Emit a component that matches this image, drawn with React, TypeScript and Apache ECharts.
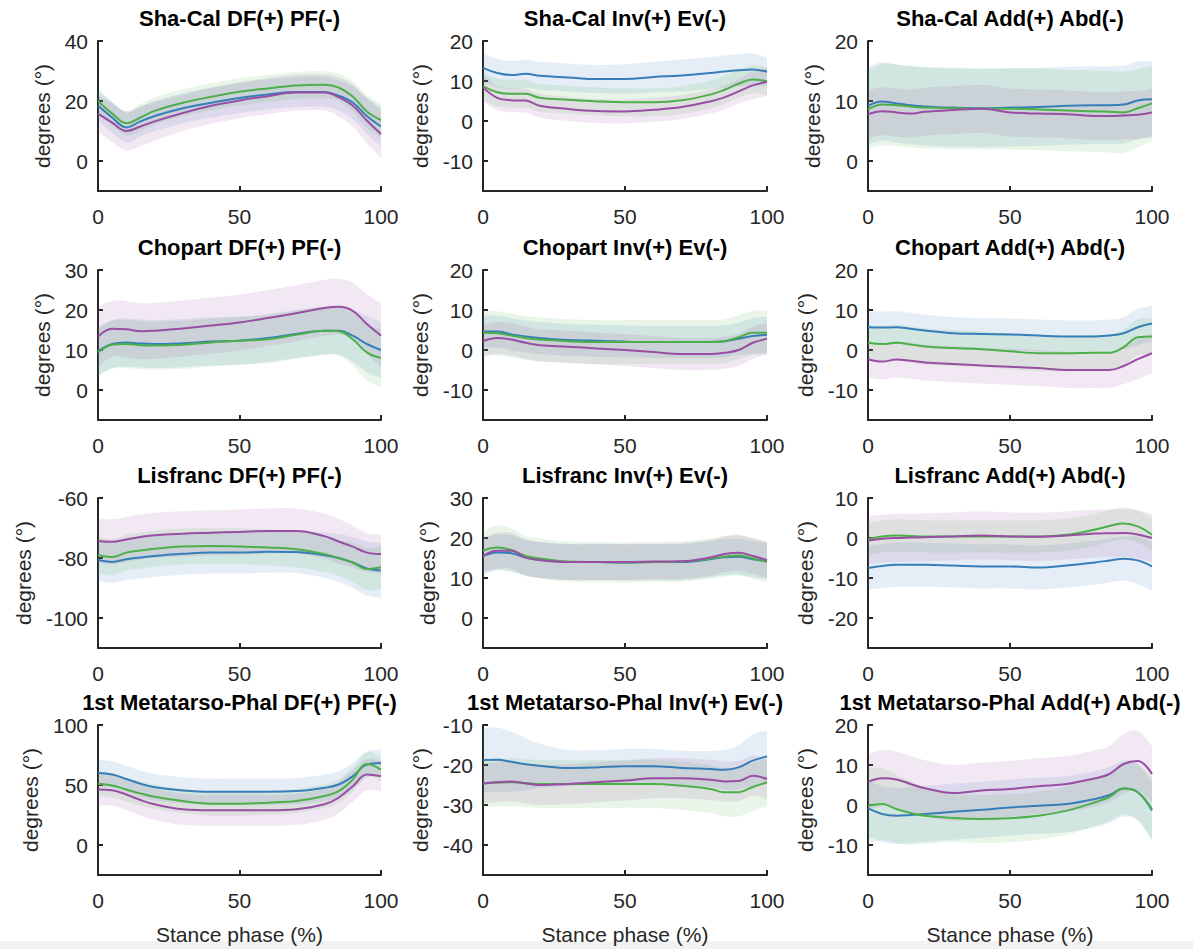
import React, { useEffect, useRef } from "react";
import * as echarts from "echarts";

// Stance phase sample points (%)
const X = [0, 5, 10, 15, 20, 30, 40, 50, 60, 70, 80, 85, 90, 95, 100];

// Sha-Cal DF(+) PF(-)
const shaCalDF_blue = [18.5, 14.5, 11.2, 13.2, 15, 17.6, 19.4, 21, 22.2, 23, 23, 21.8, 19.5, 15, 11.5];
const shaCalDF_green = [20, 15.8, 12.6, 14.5, 16.7, 19.4, 21.4, 23.1, 24.2, 25.2, 25.4, 24.5, 21.5, 16.5, 13.6];
const shaCalDF_purple = [15.8, 12.8, 10, 11.5, 13.2, 16, 18.4, 20.2, 21.6, 22.8, 22.8, 21.3, 18.5, 13.5, 9];
const shaCalDF_blueSD = [5, 5, 5, 5, 5, 5, 5, 5, 5, 5, 5, 5, 5.5, 6, 6.5];
const shaCalDF_greenSD = [4, 4, 4, 4.5, 4.5, 4.5, 4.5, 4.5, 4.5, 4.5, 4.5, 4.5, 5, 5.5, 5.5];
const shaCalDF_purpleSD = [6, 6.5, 6.5, 6.5, 6.5, 6, 6, 6, 6, 6, 6, 6.5, 7, 7.5, 8];

// Sha-Cal Inv(+) Ev(-)
const shaCalInv_blue = [13.3, 12, 11.5, 11.8, 11.3, 10.9, 10.5, 10.5, 11, 11.4, 12, 12.4, 12.7, 12.9, 12.3];
const shaCalInv_green = [8.7, 7.2, 6.8, 6.8, 5.8, 5.3, 4.9, 4.7, 4.7, 5.2, 6.6, 7.8, 9.3, 10.4, 9.9];
const shaCalInv_purple = [8.4, 5.8, 5.2, 5.1, 3.8, 3, 2.5, 2.4, 2.8, 3.5, 4.9, 5.9, 7.4, 8.9, 9.8];
const shaCalInv_blueSD = [3.5, 3.5, 3.5, 3.5, 3.5, 3.5, 3.5, 3.7, 3.8, 4, 4, 4, 4, 4, 3.5];
const shaCalInv_greenSD = [3.5, 3.5, 3.5, 3.5, 3.5, 3.5, 3.5, 3.5, 3.5, 3.5, 3.5, 3.5, 3.5, 3.5, 3.5];
const shaCalInv_purpleSD = [3.5, 3, 3, 3, 3, 3, 3, 3, 3, 3, 3, 3, 3, 3.5, 3.5];

// Sha-Cal Add(+) Abd(-)
const shaCalAdd_blue = [9.2, 9.9, 9.6, 9.3, 9.1, 8.9, 8.8, 8.9, 9, 9.2, 9.3, 9.3, 9.4, 10.1, 10.3];
const shaCalAdd_green = [8.6, 9.4, 9.3, 9.1, 8.9, 8.8, 8.7, 8.7, 8.6, 8.4, 8.3, 8.2, 8.1, 8.8, 9.6];
const shaCalAdd_purple = [7.8, 8.3, 8.1, 7.9, 8.2, 8.5, 8.7, 8.1, 7.9, 7.8, 7.5, 7.5, 7.6, 7.7, 8.1];
const shaCalAdd_blueSD = [6.5, 6.5, 6.5, 6.5, 6.5, 6.5, 6.5, 6.5, 6.5, 6.5, 6.5, 6.5, 6.5, 6.5, 6.3];
const shaCalAdd_greenSD = [6.5, 6.8, 6.8, 6.8, 6.8, 6.8, 6.8, 6.8, 6.8, 6.8, 6.8, 6.8, 6.8, 6.5, 6.3];
const shaCalAdd_purpleSD = [4, 4, 4, 4, 4, 4, 4, 4, 4, 4, 4, 4, 4, 4, 4];

// Chopart DF(+) PF(-)
const chopartDF_blue = [9.7, 11.5, 11.9, 11.6, 11.5, 11.7, 12.1, 12.3, 13, 14, 14.8, 14.8, 13.6, 11.5, 10];
const chopartDF_green = [9.4, 11.3, 11.5, 11.2, 11.1, 11.3, 11.9, 12.3, 12.7, 13.8, 14.8, 14.7, 12.7, 9.4, 8];
const chopartDF_purple = [13.3, 15.3, 15.2, 14.7, 14.8, 15.4, 16.1, 16.9, 18, 19.2, 20.5, 20.8, 19.8, 16.5, 13.6];
const chopartDF_blueSD = [6, 6, 6, 6, 6, 6, 6, 6, 6, 6, 6, 6, 6.5, 7, 7];
const chopartDF_greenSD = [6, 6, 6, 6, 6, 6, 6, 6, 6, 6, 6, 6, 6.5, 7, 7.2];
const chopartDF_purpleSD = [7.5, 7, 7, 7, 7, 7, 7, 7, 7, 7, 7, 7, 7, 7.5, 8];

// Chopart Inv(+) Ev(-)
const chopartInv_blue = [4.6, 4.6, 3.9, 3.4, 3, 2.5, 2.3, 2.1, 2, 2, 2, 2.2, 2.8, 3.5, 3.8];
const chopartInv_green = [4.3, 4.2, 3.6, 3, 2.6, 2.2, 2, 2, 2, 2, 2, 2.2, 3.2, 4.3, 4.3];
const chopartInv_purple = [2.2, 3, 2.6, 1.8, 1.2, 0.8, 0.4, 0, -0.5, -1, -1, -0.7, 0, 1.8, 2.8];
const chopartInv_blueSD = [4, 4, 4, 4, 4, 4, 4, 4, 4, 4, 4, 4, 4, 4.5, 4.5];
const chopartInv_greenSD = [5.5, 5.5, 5.5, 5.5, 5.5, 5.5, 5.5, 5.5, 5.5, 5.5, 5.5, 5.5, 5.5, 5.5, 5.5];
const chopartInv_purpleSD = [4, 4, 4, 4, 4, 4, 4, 4, 4, 4, 4, 4, 4, 4, 4];

// Chopart Add(+) Abd(-)
const chopartAdd_blue = [5.7, 5.6, 5.7, 5.3, 4.9, 4.2, 4, 3.9, 3.6, 3.4, 3.4, 3.6, 4.2, 5.7, 6.6];
const chopartAdd_green = [1.8, 1.5, 1.8, 1.4, 0.9, 0.5, 0.2, -0.3, -0.8, -0.8, -0.7, -0.7, 0.7, 3.2, 3.4];
const chopartAdd_purple = [-2.3, -2.9, -2.4, -2.7, -3.1, -3.5, -3.9, -4.2, -4.5, -5, -5, -5, -4, -2.3, -0.8];
const chopartAdd_blueSD = [4, 4, 4, 4, 4, 4, 4, 4, 4, 4, 4, 4, 4, 4.5, 4.5];
const chopartAdd_greenSD = [4.5, 4.5, 4.5, 4.5, 4.5, 4.5, 4.5, 4.5, 4.5, 4.5, 4.5, 4.5, 4.5, 4.5, 4.5];
const chopartAdd_purpleSD = [4.5, 4.5, 4.5, 4.5, 4.5, 4.5, 4.5, 4.5, 4.5, 4.5, 4.5, 4.5, 4.5, 5, 5];

// Lisfranc DF(+) PF(-)
const lisfrancDF_blue = [-80.6, -81.3, -80.4, -79.8, -79.3, -78.6, -78.2, -78.2, -77.9, -78, -79.1, -80, -81.5, -83.5, -84.2];
const lisfrancDF_green = [-79, -79.7, -78.2, -77.5, -76.9, -76.2, -76, -76.2, -76.5, -77.1, -78.7, -80, -81.5, -83.7, -83.1];
const lisfrancDF_purple = [-74.3, -74.6, -73.8, -73, -72.4, -71.9, -71.6, -71.3, -71, -71, -72.7, -74.5, -76.2, -78.2, -78.7];
const lisfrancDF_blueSD = [7, 7, 7, 7, 7, 7, 7, 7, 7, 7, 7.5, 8, 8.5, 9, 9];
const lisfrancDF_greenSD = [6, 6, 6, 6, 6, 6, 6, 6, 6, 6, 6, 6, 6.5, 7, 7];
const lisfrancDF_purpleSD = [7.5, 7.5, 7.5, 7.5, 7.5, 7.5, 7.5, 7.5, 7.5, 7.5, 7.5, 7.5, 7, 6.5, 6.5];

// Lisfranc Inv(+) Ev(-)
const lisfrancInv_blue = [15.5, 16.4, 16.2, 15.1, 14.5, 14, 14, 13.9, 14, 14, 14.7, 15.2, 15.3, 14.7, 14.3];
const lisfrancInv_green = [16.8, 17.6, 17, 15.5, 14.9, 14.1, 14, 13.9, 14, 14.1, 14.8, 15.4, 15.6, 14.9, 14];
const lisfrancInv_purple = [15.5, 16.8, 16.8, 15.1, 14.5, 14, 14, 14, 14.1, 14.2, 15.1, 16, 16.3, 15.5, 14.5];
const lisfrancInv_blueSD = [4.5, 4.5, 4.5, 4.5, 4.5, 4.5, 4.5, 4.5, 4.5, 4.5, 4.5, 4.5, 4.5, 4.5, 4.5];
const lisfrancInv_greenSD = [5, 5.5, 5.5, 5, 5, 5, 5, 5, 5, 5, 5, 5, 5, 5, 5];
const lisfrancInv_purpleSD = [4.5, 4.5, 4.5, 4.5, 4.5, 4.5, 4.5, 4.5, 4.5, 4.5, 4.5, 4.5, 4.5, 4.5, 4.5];

// Lisfranc Add(+) Abd(-)
const lisfrancAdd_blue = [-7.5, -7, -6.7, -6.7, -6.7, -6.9, -7.1, -7.1, -7.4, -6.9, -6.1, -5.6, -5.2, -5.6, -7.1];
const lisfrancAdd_green = [-0.3, 0.4, 0.6, 0.5, 0.4, 0.4, 0.4, 0.4, 0.4, 0.8, 2.1, 3, 3.6, 2.9, 0.8];
const lisfrancAdd_purple = [-0.6, -0.2, 0, 0.1, 0.2, 0.4, 0.6, 0.4, 0.3, 0.6, 1.1, 1.2, 1.25, 0.9, 0];
const lisfrancAdd_blueSD = [5.5, 5.5, 5.5, 5.5, 5.5, 5.5, 5.5, 5.5, 5.5, 5.5, 5.5, 5.5, 5.5, 6, 6];
const lisfrancAdd_greenSD = [4, 4, 4, 4, 4, 4, 4, 4, 4, 4, 4, 4, 4, 4, 4];
const lisfrancAdd_purpleSD = [6, 6, 6, 6, 6, 6, 6, 6, 6, 6, 6, 6, 6, 6, 6];

// 1st Metatarso-Phal DF(+) PF(-)
const mtpDF_blue = [60, 58.7, 55, 51, 48.2, 45.5, 44.4, 44.4, 44.4, 44.9, 47.7, 50.4, 57.3, 67, 68.3];
const mtpDF_green = [51, 49.6, 46.3, 43, 40.2, 36.6, 34.4, 34.4, 35.3, 36.6, 40.8, 44.9, 54.5, 67.5, 62.8];
const mtpDF_purple = [46.3, 45.7, 42.1, 37.5, 33.9, 29.8, 28.9, 28.9, 28.9, 29.8, 33.9, 39.4, 49, 58.7, 57.3];
const mtpDF_blueSD = [11, 11, 11, 11, 11, 11, 11, 11, 11, 11, 11, 11, 11, 11, 11];
const mtpDF_greenSD = [10, 10, 10, 10, 10, 10, 10, 10, 10, 10, 10, 10, 10, 10, 10];
const mtpDF_purpleSD = [13, 13, 13, 13, 13, 13, 13, 13, 13, 13, 13, 13, 13, 13, 13];

// 1st Metatarso-Phal Inv(+) Ev(-)
const mtpInv_blue = [-18.75, -18.7, -19.2, -19.8, -20.2, -20.75, -20.6, -20.3, -20.3, -20.75, -21, -21.2, -20.6, -18.9, -17.9];
const mtpInv_green = [-24.6, -24.4, -24.3, -24.5, -24.75, -24.75, -24.75, -24.75, -24.75, -25.2, -26, -26.8, -26.8, -25.5, -24.3];
const mtpInv_purple = [-24.6, -24.3, -24.1, -24.6, -25, -24.75, -24.3, -23.9, -23.3, -23.3, -23.7, -24.1, -24, -22.7, -23.5];
const mtpInv_blueSD = [8, 8, 7.5, 6.5, 5.5, 4.5, 4.3, 4.3, 4.3, 4.3, 4.5, 5, 5.5, 6.5, 6.5];
const mtpInv_greenSD = [6, 6, 6, 6, 6, 6, 6, 6, 6, 6, 6, 6, 6, 6, 6];
const mtpInv_purpleSD = [5, 5, 5, 5, 5, 5, 5, 5, 5, 5, 5, 5, 5, 5, 5];

// 1st Metatarso-Phal Add(+) Abd(-)
const mtpAdd_blue = [-0.8, -2.25, -2.7, -2.5, -2.25, -1.7, -1.2, -0.6, -0.2, 0.25, 1.5, 2.5, 4.1, 3.2, -1.4];
const mtpAdd_green = [-0.2, 0.25, -1, -2, -2.7, -3.25, -3.5, -3.3, -2.7, -1.4, 0.7, 2, 4.1, 3.2, -1];
const mtpAdd_purple = [5.8, 6.7, 6.4, 5.25, 4.2, 3, 3.6, 4, 4.7, 5.25, 6.7, 7.75, 10.25, 11, 7.75];
const mtpAdd_blueSD = [7, 7, 7, 7, 7, 7, 7, 7, 7, 7, 7, 7, 7, 7, 7];
const mtpAdd_greenSD = [9.5, 9, 8.5, 8, 7, 6, 6, 6, 6, 6, 6, 6, 6.5, 7, 8];
const mtpAdd_purpleSD = [7, 7, 7, 7, 7, 7, 7, 7, 7, 7, 7, 7, 7.5, 7.5, 7];

// Panel titles and y-axis limits / ticks
const TITLES = [
  "Sha-Cal DF(+) PF(-)", "Sha-Cal Inv(+) Ev(-)", "Sha-Cal Add(+) Abd(-)",
  "Chopart DF(+) PF(-)", "Chopart Inv(+) Ev(-)", "Chopart Add(+) Abd(-)",
  "Lisfranc DF(+) PF(-)", "Lisfranc Inv(+) Ev(-)", "Lisfranc Add(+) Abd(-)",
  "1st Metatarso-Phal DF(+) PF(-)", "1st Metatarso-Phal Inv(+) Ev(-)", "1st Metatarso-Phal Add(+) Abd(-)",
];
const Y_MIN = [-10, -17.5, -5, -7.5, -17.5, -17.5, -110, -7.5, -27.5, -25, -47.5, -17.5];
const Y_MAX = [40, 20, 20, 30, 20, 20, -60, 30, 10, 100, -10, 20];
const Y_TICKS = [
  [0, 20, 40], [-10, 0, 10, 20], [0, 10, 20],
  [0, 10, 20, 30], [-10, 0, 10, 20], [-10, 0, 10, 20],
  [-100, -80, -60], [0, 10, 20, 30], [-20, -10, 0, 10],
  [0, 50, 100], [-40, -30, -20, -10], [-10, 0, 10, 20],
];
const X_TICKS = [0, 50, 100];

const MEANS = [
  [shaCalDF_blue, shaCalDF_green, shaCalDF_purple],
  [shaCalInv_blue, shaCalInv_green, shaCalInv_purple],
  [shaCalAdd_blue, shaCalAdd_green, shaCalAdd_purple],
  [chopartDF_blue, chopartDF_green, chopartDF_purple],
  [chopartInv_blue, chopartInv_green, chopartInv_purple],
  [chopartAdd_blue, chopartAdd_green, chopartAdd_purple],
  [lisfrancDF_blue, lisfrancDF_green, lisfrancDF_purple],
  [lisfrancInv_blue, lisfrancInv_green, lisfrancInv_purple],
  [lisfrancAdd_blue, lisfrancAdd_green, lisfrancAdd_purple],
  [mtpDF_blue, mtpDF_green, mtpDF_purple],
  [mtpInv_blue, mtpInv_green, mtpInv_purple],
  [mtpAdd_blue, mtpAdd_green, mtpAdd_purple],
];
const SDS = [
  [shaCalDF_blueSD, shaCalDF_greenSD, shaCalDF_purpleSD],
  [shaCalInv_blueSD, shaCalInv_greenSD, shaCalInv_purpleSD],
  [shaCalAdd_blueSD, shaCalAdd_greenSD, shaCalAdd_purpleSD],
  [chopartDF_blueSD, chopartDF_greenSD, chopartDF_purpleSD],
  [chopartInv_blueSD, chopartInv_greenSD, chopartInv_purpleSD],
  [chopartAdd_blueSD, chopartAdd_greenSD, chopartAdd_purpleSD],
  [lisfrancDF_blueSD, lisfrancDF_greenSD, lisfrancDF_purpleSD],
  [lisfrancInv_blueSD, lisfrancInv_greenSD, lisfrancInv_purpleSD],
  [lisfrancAdd_blueSD, lisfrancAdd_greenSD, lisfrancAdd_purpleSD],
  [mtpDF_blueSD, mtpDF_greenSD, mtpDF_purpleSD],
  [mtpInv_blueSD, mtpInv_greenSD, mtpInv_purpleSD],
  [mtpAdd_blueSD, mtpAdd_greenSD, mtpAdd_purpleSD],
];

const COLORS = ["#377eb8", "#4daf4a", "#984ea3"];

// layout
const COL_LEFT = [98, 483, 868];
const COL_WIDTH = [283, 284, 284];
const ROW_TOP = [41, 270, 498, 725];
const PLOT_H = 150;
const FONT = "'Liberation Sans', Arial, Helvetica, sans-serif";
const AXIS_COLOR = "#262626";
const TICK_FS = 21;
const NAME_FS = 21;
const TITLE_FS = 22;

function labelWidth(ticks: number[], fs: number) {
  let w = 0;
  for (const t of ticks) {
    const s = String(t);
    let sw = 0;
    for (const ch of s) sw += ch === "-" ? 0.333 : 0.556;
    w = Math.max(w, sw * fs);
  }
  return w;
}

// smooth curve through pixel points (rendering only)
function curveSegments(pts: number[][], start: boolean) {
  let d = (start ? "M" : "L") + pts[0][0].toFixed(2) + "," + pts[0][1].toFixed(2);
  const t = 0.18;
  for (let k = 0; k < pts.length - 1; k++) {
    const p0 = pts[Math.max(0, k - 1)];
    const p1 = pts[k];
    const p2 = pts[k + 1];
    const p3 = pts[Math.min(pts.length - 1, k + 2)];
    const c1x = p1[0] + (p2[0] - p0[0]) * t;
    const c1y = p1[1] + (p2[1] - p0[1]) * t;
    const c2x = p2[0] - (p3[0] - p1[0]) * t;
    const c2y = p2[1] - (p3[1] - p1[1]) * t;
    d += " C" + c1x.toFixed(2) + "," + c1y.toFixed(2) + " " + c2x.toFixed(2) + "," + c2y.toFixed(2) + " " + p2[0].toFixed(2) + "," + p2[1].toFixed(2);
  }
  return d;
}

const BIG = 10000;

function makeBandRender(lo: number[], hi: number[], color: string) {
  return (params: any, api: any) => {
    if (params.dataIndex !== 0) return null;
    const up = X.map((x, k) => api.coord([x, hi[k]]));
    const dn = X.map((x, k) => api.coord([x, lo[k]])).reverse();
    // two bare move-to points pin the bounding box so the path is not rescaled
    const d = `M${-BIG},${-BIG} M${BIG},${BIG} ` + curveSegments(up, true) + " " + curveSegments(dn, false) + " Z";
    return {
      type: "path",
      shape: { pathData: d, x: -BIG, y: -BIG, width: 2 * BIG, height: 2 * BIG, layout: "cover" },
      style: { fill: color, opacity: 0.13 },
      silent: true,
    };
  };
}

function buildOption() {
  const grid: any[] = [];
  const xAxis: any[] = [];
  const yAxis: any[] = [];
  const series: any[] = [];
  const graphic: any[] = [];

  TITLES.forEach((title, i) => {
    const r = Math.floor(i / 3);
    const c = i % 3;
    grid.push({ left: COL_LEFT[c], top: ROW_TOP[r], width: COL_WIDTH[c], height: PLOT_H });
    const isLastRow = r === 3;
    xAxis.push({
      gridIndex: i,
      type: "value",
      min: 0,
      max: 100,
      interval: 50,
      axisLine: { onZero: false, lineStyle: { color: AXIS_COLOR, width: 2 } },
      axisTick: { inside: true, length: 5, lineStyle: { color: AXIS_COLOR, width: 2 } },
      axisLabel: { margin: 15, fontSize: TICK_FS, color: AXIS_COLOR, fontFamily: FONT, customValues: X_TICKS },
      splitLine: { show: false },
      name: isLastRow ? "Stance phase (%)" : "",
      nameLocation: "middle",
      nameGap: 49,
      nameTextStyle: { fontSize: NAME_FS, color: AXIS_COLOR, fontFamily: FONT },
    });
    const lw = labelWidth(Y_TICKS[i], TICK_FS);
    yAxis.push({
      gridIndex: i,
      type: "value",
      min: Y_MIN[i],
      max: Y_MAX[i],
      axisLine: { show: true, onZero: false, lineStyle: { color: AXIS_COLOR, width: 2 } },
      axisTick: { show: true, inside: true, length: 5, customValues: Y_TICKS[i], lineStyle: { color: AXIS_COLOR, width: 2 } },
      axisLabel: { margin: 10, fontSize: TICK_FS, color: AXIS_COLOR, fontFamily: FONT, customValues: Y_TICKS[i] },
      splitLine: { show: false },
      name: "degrees (°)",
      nameLocation: "middle",
      nameRotate: 90,
      nameGap: lw + 22,
      nameTextStyle: { fontSize: NAME_FS, color: AXIS_COLOR, fontFamily: FONT },
    });

    // shaded bands (mean ± SD)
    for (let g = 0; g < 3; g++) {
      const m = MEANS[i][g];
      const sd = SDS[i][g];
      const lo = m.map((v, k) => v - sd[k]);
      const hi = m.map((v, k) => v + sd[k]);
      series.push({
        type: "custom",
        xAxisIndex: i,
        yAxisIndex: i,
        data: X.map((x, k) => [x, lo[k], hi[k]]),
        encode: { x: 0, y: [1, 2] },
        itemStyle: { color: COLORS[g] },
        renderItem: makeBandRender(lo, hi, COLORS[g]),
        clip: true,
        silent: true,
        z: 1,
      });
    }
    // mean curves
    for (let g = 0; g < 3; g++) {
      const m = MEANS[i][g];
      series.push({
        type: "line",
        xAxisIndex: i,
        yAxisIndex: i,
        data: X.map((x, k) => [x, m[k]]),
        smooth: 0.4,
        symbol: "none",
        lineStyle: { color: COLORS[g], width: 2 },
        silent: true,
        z: 3,
      });
    }

    graphic.push({
      type: "text",
      x: COL_LEFT[c] + COL_WIDTH[c] / 2,
      y: ROW_TOP[r] - 23,
      style: {
        text: title,
        align: "center",
        verticalAlign: "middle",
        fontSize: TITLE_FS,
        fontWeight: "bold",
        fontFamily: FONT,
        fill: "#000",
      },
    });
  });

  graphic.push({
    type: "rect",
    shape: { x: 0, y: 941, width: 1193, height: 8 },
    style: { fill: "#f2f2f2" },
    z: -10,
  });

  return {
    animation: false,
    backgroundColor: "#ffffff",
    grid,
    xAxis,
    yAxis,
    series,
    graphic,
  };
}

export default function App() {
  const ref = useRef<HTMLDivElement>(null);
  useEffect(() => {
    if (!ref.current) return;
    const chart = echarts.init(ref.current, undefined, { renderer: "svg" });
    chart.setOption(buildOption() as any);
    return () => chart.dispose();
  }, []);
  return (
    <div
      ref={ref}
      style={{ position: "absolute", left: 0, top: 0, width: 1193, height: 949, background: "#fff" }}
    />
  );
}
